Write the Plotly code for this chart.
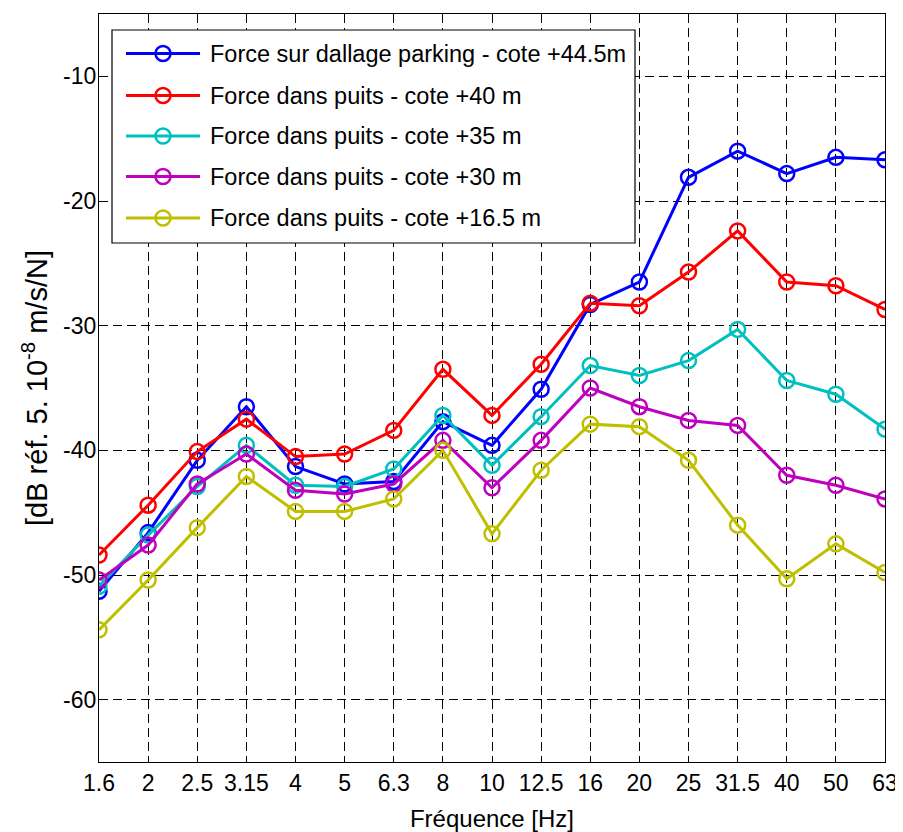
import plotly.graph_objects as go

freq_labels = ["1.6", "2", "2.5", "3.15", "4", "5", "6.3", "8", "10", "12.5",
               "16", "20", "25", "31.5", "40", "50", "63"]

dallage_44_5 = [-51.3, -46.6, -40.8, -36.5, -41.3, -42.7, -42.5, -37.7, -39.6, -35.1,
                -28.3, -26.5, -18.1, -16.0, -17.8, -16.5, -16.7]
puits_40 = [-48.4, -44.4, -40.1, -37.5, -40.5, -40.3, -38.4, -33.5, -37.2, -33.1,
            -28.2, -28.4, -25.7, -22.4, -26.5, -26.8, -28.7]
puits_35 = [-50.9, -46.8, -42.9, -39.6, -42.8, -42.9, -41.5, -37.2, -41.2, -37.3,
            -33.2, -34.0, -32.8, -30.3, -34.4, -35.5, -38.3]
puits_30 = [-50.4, -47.6, -42.7, -40.3, -43.2, -43.5, -42.7, -39.2, -43.0, -39.2,
            -35.0, -36.5, -37.6, -38.0, -42.0, -42.8, -43.9]
puits_16_5 = [-54.4, -50.4, -46.2, -42.1, -44.9, -44.9, -43.9, -40.0, -46.7, -41.6,
              -37.9, -38.1, -40.8, -46.0, -50.3, -47.5, -49.8]

series_names = ["Force sur dallage parking - cote +44.5m",
                "Force dans puits - cote +40 m",
                "Force dans puits - cote +35 m",
                "Force dans puits - cote +30 m",
                "Force dans puits - cote +16.5 m"]
series_values = [dallage_44_5, puits_40, puits_35, puits_30, puits_16_5]
series_colors = ["#0000FF", "#FF0000", "#00BFBF", "#BF00BF", "#BFBF00"]

y_ticks = [-60, -50, -40, -30, -20, -10]

FONT = "Liberation Sans, Arial, sans-serif"
x_idx = list(range(len(freq_labels)))

# page layout (the html body adds an 8px offset)
BODY = 8
PLOT_L, PLOT_R, PLOT_T, PLOT_B = 99, 885, 14, 762
FIG_W, FIG_H = 903 - BODY, 832 - BODY


def px_x(px):
    return (px - PLOT_L) / (PLOT_R - PLOT_L)


def px_y(py):
    return 1 - (py - PLOT_T) / (PLOT_B - PLOT_T)


fig = go.Figure()
for name, vals, col in zip(series_names, series_values, series_colors):
    fig.add_trace(go.Scatter(
        x=x_idx, y=vals, name=name, mode="lines+markers", showlegend=False,
        line=dict(color=col, width=3),
        marker=dict(symbol="circle-open", size=15, color=col, line=dict(width=2.5, color=col)),
    ))

axis_common = dict(
    showline=True, linecolor="black", linewidth=1.2, mirror="ticks",
    ticks="inside", ticklen=5, tickcolor="black",
    showgrid=True, gridcolor="black", gridwidth=1, griddash="9px,5px",
    zeroline=False,
    tickfont=dict(family=FONT, size=23, color="black"),
)

fig.update_xaxes(
    **axis_common,
    range=[0, len(freq_labels) - 1],
    tickmode="array", tickvals=x_idx, ticktext=freq_labels,
    title=dict(text="Fréquence [Hz]", font=dict(family=FONT, size=24, color="black"), standoff=15),
)
fig.update_yaxes(
    **axis_common,
    range=[-65, -5],
    tickmode="array", tickvals=y_ticks, ticktext=[str(v) for v in y_ticks],
    ticklabelstandoff=-3,
    title=dict(text="[dB réf. 5. 10<sup>-8</sup> m/s/N]", font=dict(family=FONT, size=29, color="black"), standoff=6),
)

# custom legend (MATLAB style: long line sample with marker in the middle)
LEG_L, LEG_R, LEG_T, LEG_B = 112, 635, 30, 243
entry_y = [53.5, 95.5, 136, 176.5, 218]
LINE_X0, LINE_X1, MARK_X, TEXT_X = 126, 200, 163, 208

shapes = [dict(type="rect", xref="paper", yref="paper", layer="above",
               x0=px_x(LEG_L), x1=px_x(LEG_R), y0=px_y(LEG_B), y1=px_y(LEG_T),
               fillcolor="white", line=dict(color="black", width=1.2))]
annotations = []
for name, col, ey in zip(series_names, series_colors, entry_y):
    shapes.append(dict(type="line", xref="paper", yref="paper", layer="above",
                       x0=px_x(LINE_X0), x1=px_x(LINE_X1), y0=px_y(ey), y1=px_y(ey),
                       line=dict(color=col, width=3)))
    shapes.append(dict(type="circle", xref="paper", yref="paper", layer="above",
                       xsizemode="pixel", ysizemode="pixel",
                       xanchor=px_x(MARK_X), yanchor=px_y(ey),
                       x0=-7.5, x1=7.5, y0=-7.5, y1=7.5,
                       line=dict(color=col, width=2.5)))
    annotations.append(dict(xref="paper", yref="paper", x=px_x(TEXT_X), y=px_y(ey),
                            xanchor="left", yanchor="middle", showarrow=False,
                            text=name, font=dict(family=FONT, size=23.5, color="black")))

fig.update_layout(
    width=FIG_W, height=FIG_H,
    margin=dict(l=PLOT_L - BODY, r=903 - PLOT_R, t=PLOT_T - BODY, b=832 - PLOT_B,
                autoexpand=False),
    paper_bgcolor="white", plot_bgcolor="white",
    font=dict(family=FONT, size=23, color="black"),
    showlegend=False,
    shapes=shapes,
    annotations=annotations,
)

fig.write_html("out.html")
